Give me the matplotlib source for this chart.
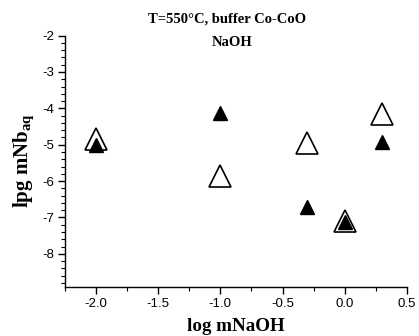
import matplotlib
matplotlib.use("Agg")
import matplotlib.pyplot as plt
from matplotlib.ticker import MultipleLocator, FormatStrFormatter

plt.rcParams['axes.unicode_minus'] = False
plt.rcParams['mathtext.default'] = 'regular'

# data
x_open = [-2.0, -1.0, -0.3, 0.0, 0.3]
y_open = [-4.85, -5.87, -4.95, -7.09, -4.15]
x_filled = [-2.0, -1.0, -0.3, 0.0, 0.3]
y_filled = [-5.0, -4.14, -6.70, -7.12, -4.92]

title1 = "T=550°C, buffer Co-CoO"
title2 = "NaOH"
xlabel = "log mNaOH"
ylabel = "lpg mNb$_{aq}$"

fig = plt.figure(figsize=(4.19, 3.36), dpi=100)
ax = fig.add_axes([0.155, 0.147, 0.816, 0.747])

ax.plot(x_open, y_open, linestyle='none', marker='^', ms=16,
        mfc='white', mec='black', mew=1.2, zorder=3)
ax.plot(x_filled, y_filled, linestyle='none', marker='^', ms=9.5,
        mfc='black', mec='black', mew=1.0, zorder=4)

ax.set_xlim(-2.25, 0.5)
ax.set_ylim(-8.9, -2.0)
for s in ['top', 'right']:
    ax.spines[s].set_visible(False)
for s in ['left', 'bottom']:
    ax.spines[s].set_linewidth(1.0)

ax.xaxis.set_major_locator(MultipleLocator(0.5))
ax.xaxis.set_minor_locator(MultipleLocator(0.25))
ax.yaxis.set_major_locator(MultipleLocator(1))
ax.yaxis.set_minor_locator(MultipleLocator(0.2))
ax.xaxis.set_major_formatter(FormatStrFormatter('%.1f'))
ax.yaxis.set_major_formatter(FormatStrFormatter('%d'))
ax.tick_params(which='major', direction='out', length=5, width=1,
               labelsize=9.5, pad=3)
ax.tick_params(which='minor', direction='out', length=3, width=0.8)
for lab in ax.get_xticklabels() + ax.get_yticklabels():
    lab.set_family('Liberation Sans')

ax.set_xlabel(xlabel, family='Liberation Serif', weight='bold', fontsize=13.7,
              labelpad=6)
ax.set_ylabel(ylabel, family='Liberation Serif', weight='bold', fontsize=15,
              labelpad=4)

fig.text(0.543, 0.944, title1, family='Liberation Serif', weight='bold',
         fontsize=10.5, ha='center', va='center')
fig.text(0.553, 0.875, title2, family='Liberation Serif', weight='bold',
         fontsize=10.5, ha='center', va='center')

fig.savefig('out.png', dpi=100)
